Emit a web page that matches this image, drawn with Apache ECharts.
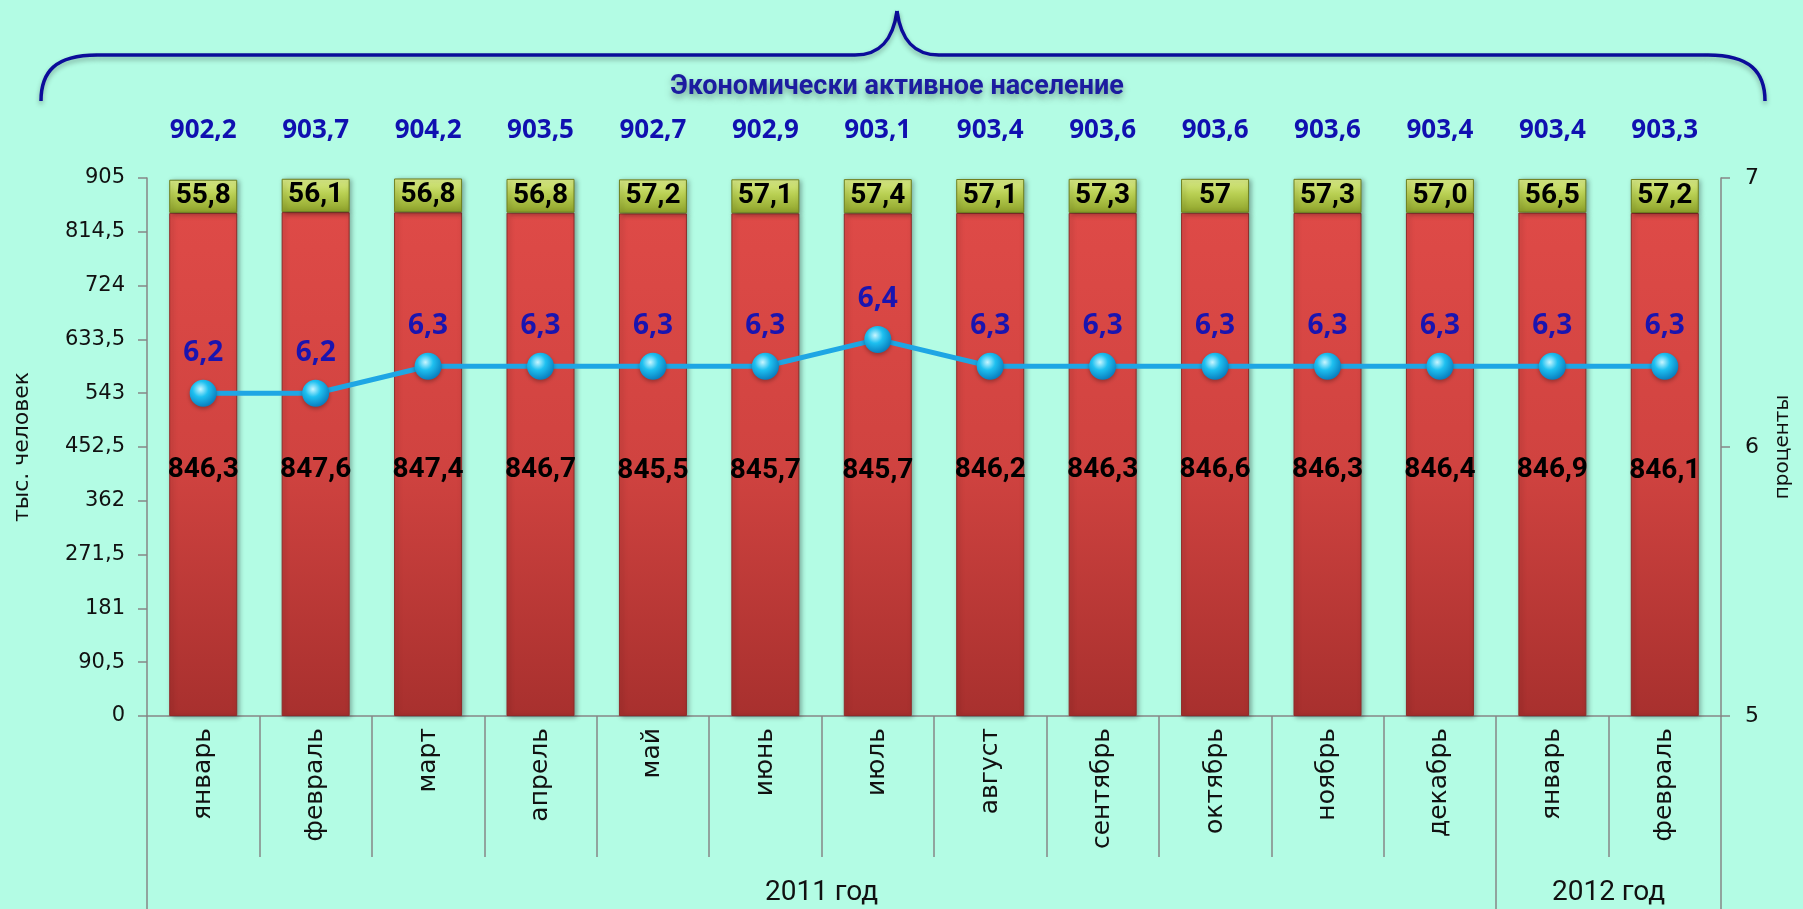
<!DOCTYPE html>
<html><head><meta charset="utf-8">
<script src="https://cdn.jsdelivr.net/npm/echarts@6/dist/echarts.min.js"></script>
<style>html,body{margin:0;padding:0;background:#b3fce4;}#c{width:1803px;height:909px;}</style>
</head><body><div id="c"></div>
<script>
const months = ['январь','февраль','март','апрель','май','июнь','июль','август','сентябрь','октябрь','ноябрь','декабрь','январь','февраль'];
const employed = [846.3, 847.6, 847.4, 846.7, 845.5, 845.7, 845.7, 846.2, 846.3, 846.6, 846.3, 846.4, 846.9, 846.1];
const unemployed = [55.8, 56.1, 56.8, 56.8, 57.2, 57.1, 57.4, 57.1, 57.3, 57.0, 57.3, 57.0, 56.5, 57.2];
const unemployedLabels = ['55,8','56,1','56,8','56,8','57,2','57,1','57,4','57,1','57,3','57','57,3','57,0','56,5','57,2'];
const activeTotal = [902.2, 903.7, 904.2, 903.5, 902.7, 902.9, 903.1, 903.4, 903.6, 903.6, 903.6, 903.4, 903.4, 903.3];
const unemploymentRate = [6.2, 6.2, 6.3, 6.3, 6.3, 6.3, 6.4, 6.3, 6.3, 6.3, 6.3, 6.3, 6.3, 6.3];
const yearLabels = ['2011 год', '2012 год'];
const yearMonthCounts = [12, 2];
const title = 'Экономически активное население';

const comma = v => String(v).replace('.', ',');
const yearBounds = [0]; const yearCentres = [];
yearMonthCounts.forEach((n, i) => { yearCentres.push(yearBounds[i] + n / 2); yearBounds.push(yearBounds[i] + n); });

const lin = stops => ({ type: 'linear', x: 0, y: 0, x2: 0, y2: 1, colorStops: stops });
const AXIS_FONT = 'DejaVu Sans';
const braceStyle = { fill: 'none', stroke: '#0c0c9a', lineWidth: 3.5, shadowColor: 'rgba(0,0,0,0.3)', shadowBlur: 5, shadowOffsetY: 3 };
const bez = (x1, y1, cpx1, cpy1, cpx2, cpy2, x2, y2) => ({ type: 'bezierCurve', z: 10, shape: { x1, y1, cpx1, cpy1, cpx2, cpy2, x2, y2 }, style: braceStyle });
const seg = (x1, y1, x2, y2) => ({ type: 'line', z: 10, shape: { x1, y1, x2, y2 }, style: braceStyle });

const chart = echarts.init(document.getElementById('c'));
chart.setOption({
  backgroundColor: '#b3fce4',
  animation: false,
  grid: { left: 147, right: 82, top: 178, bottom: 193, containLabel: false },
  xAxis: [
    { type: 'category', data: months, position: 'bottom',
      axisLine: { lineStyle: { color: '#868686', width: 1.5 } },
      axisTick: { show: true, length: 141, lineStyle: { color: '#868686', width: 1.5 } },
      axisLabel: { rotate: 90, margin: 12, color: '#111', fontFamily: AXIS_FONT, fontSize: 25 } },
    { type: 'category', data: activeTotal.map(comma), position: 'top',
      axisLine: { show: false }, axisTick: { show: false },
      axisLabel: { margin: 34, color: '#1010b0', fontFamily: 'Open Sans', fontWeight: 'bold', fontSize: 26 } },
    { type: 'value', min: 0, max: months.length, interval: 1, position: 'bottom', offset: 141,
      splitLine: { show: false }, axisLine: { show: false },
      axisTick: { show: true, customValues: yearBounds, length: 60, lineStyle: { color: '#868686', width: 1.5 } },
      axisLabel: { customValues: yearCentres, margin: 22, color: '#111', fontFamily: 'Roboto', fontSize: 28,
        formatter: v => { const i = yearCentres.indexOf(v); return i >= 0 ? yearLabels[i] : ''; } } }
  ],
  yAxis: [
    { type: 'value', min: 0, max: 905, interval: 90.5, position: 'left',
      name: 'тыс. человек', nameLocation: 'middle', nameGap: 114, nameRotate: 90,
      nameTextStyle: { color: '#111', fontFamily: AXIS_FONT, fontSize: 22 },
      splitLine: { show: false },
      axisLine: { show: true, lineStyle: { color: '#868686', width: 1.5 } },
      axisTick: { show: true, length: 9, lineStyle: { color: '#868686', width: 1.5 } },
      axisLabel: { margin: 22, color: '#111', fontFamily: AXIS_FONT, fontSize: 21, formatter: comma } },
    { type: 'value', min: 5, max: 7, interval: 1, position: 'right',
      name: 'проценты', nameLocation: 'middle', nameGap: 52, nameRotate: 90,
      nameTextStyle: { color: '#111', fontFamily: AXIS_FONT, fontSize: 20 },
      splitLine: { show: false },
      axisLine: { show: true, lineStyle: { color: '#868686', width: 1.5 } },
      axisTick: { show: true, length: 9, lineStyle: { color: '#868686', width: 1.5 } },
      axisLabel: { margin: 24, color: '#111', fontFamily: AXIS_FONT, fontSize: 22, formatter: comma } }
  ],
  series: [
    { name: 'занятые', type: 'bar', stack: 'a', xAxisIndex: 0, yAxisIndex: 0, barWidth: 68,
      data: employed,
      itemStyle: {
        color: lin([{ offset: 0, color: '#de4a47' }, { offset: 0.5, color: '#d04340' }, { offset: 1, color: '#a8302e' }]),
        borderColor: '#8e2b29', borderWidth: 1,
        shadowColor: 'rgba(0,0,0,0.35)', shadowBlur: 5, shadowOffsetX: 2, shadowOffsetY: 1 },
      label: { show: true, position: 'inside', offset: [0, 6], color: '#000', fontFamily: 'Roboto', fontWeight: 'bold', fontSize: 28,
        formatter: p => comma(p.value) } },
    { name: 'безработные', type: 'bar', stack: 'a', xAxisIndex: 0, yAxisIndex: 0, barWidth: 68,
      data: unemployed,
      itemStyle: {
        color: lin([{ offset: 0, color: '#dcee8a' }, { offset: 0.45, color: '#b8cf52' }, { offset: 1, color: '#8ea22a' }]),
        borderColor: '#6e7f1e', borderWidth: 1,
        shadowColor: 'rgba(0,0,0,0.35)', shadowBlur: 5, shadowOffsetX: 2, shadowOffsetY: 1 },
      label: { show: true, position: 'inside', color: '#000', fontFamily: 'Roboto', fontWeight: 'bold', fontSize: 28,
        formatter: p => unemployedLabels[p.dataIndex] } },
    { name: 'уровень безработицы', type: 'line', xAxisIndex: 0, yAxisIndex: 1, z: 5,
      data: unemploymentRate,
      lineStyle: { color: '#1ea6e4', width: 5 },
      symbol: 'circle', symbolSize: 27,
      itemStyle: {
        color: { type: 'radial', x: 0.4, y: 0.35, r: 0.65, colorStops: [
          { offset: 0, color: '#c8f6ff' }, { offset: 0.45, color: '#1ec0f0' }, { offset: 1, color: '#0a80c0' }] },
        shadowColor: 'rgba(0,0,0,0.3)', shadowBlur: 4, shadowOffsetY: 2 },
      label: { show: true, position: 'top', distance: 13, color: '#1a14b0', fontFamily: 'Open Sans', fontWeight: 'bold', fontSize: 28,
        formatter: p => comma(p.value) } }
  ],
  graphic: [
    bez(41, 101, 41, 72, 55, 55, 97, 55),
    seg(97, 55, 855, 55),
    bez(855, 55, 880, 55, 893, 40, 897, 11),
    bez(897, 11, 901, 40, 914, 55, 939, 55),
    seg(939, 55, 1708, 55),
    bez(1708, 55, 1750, 55, 1765, 72, 1765, 101),
    { type: 'text', z: 10, x: 897, y: 87,
      style: { text: title, fill: '#1c1ca0', font: 'bold 27px Roboto', textAlign: 'center', textVerticalAlign: 'middle',
        textShadowColor: 'rgba(0,0,0,0.35)', textShadowBlur: 6, textShadowOffsetY: 4 } }
  ]
});
</script></body></html>
